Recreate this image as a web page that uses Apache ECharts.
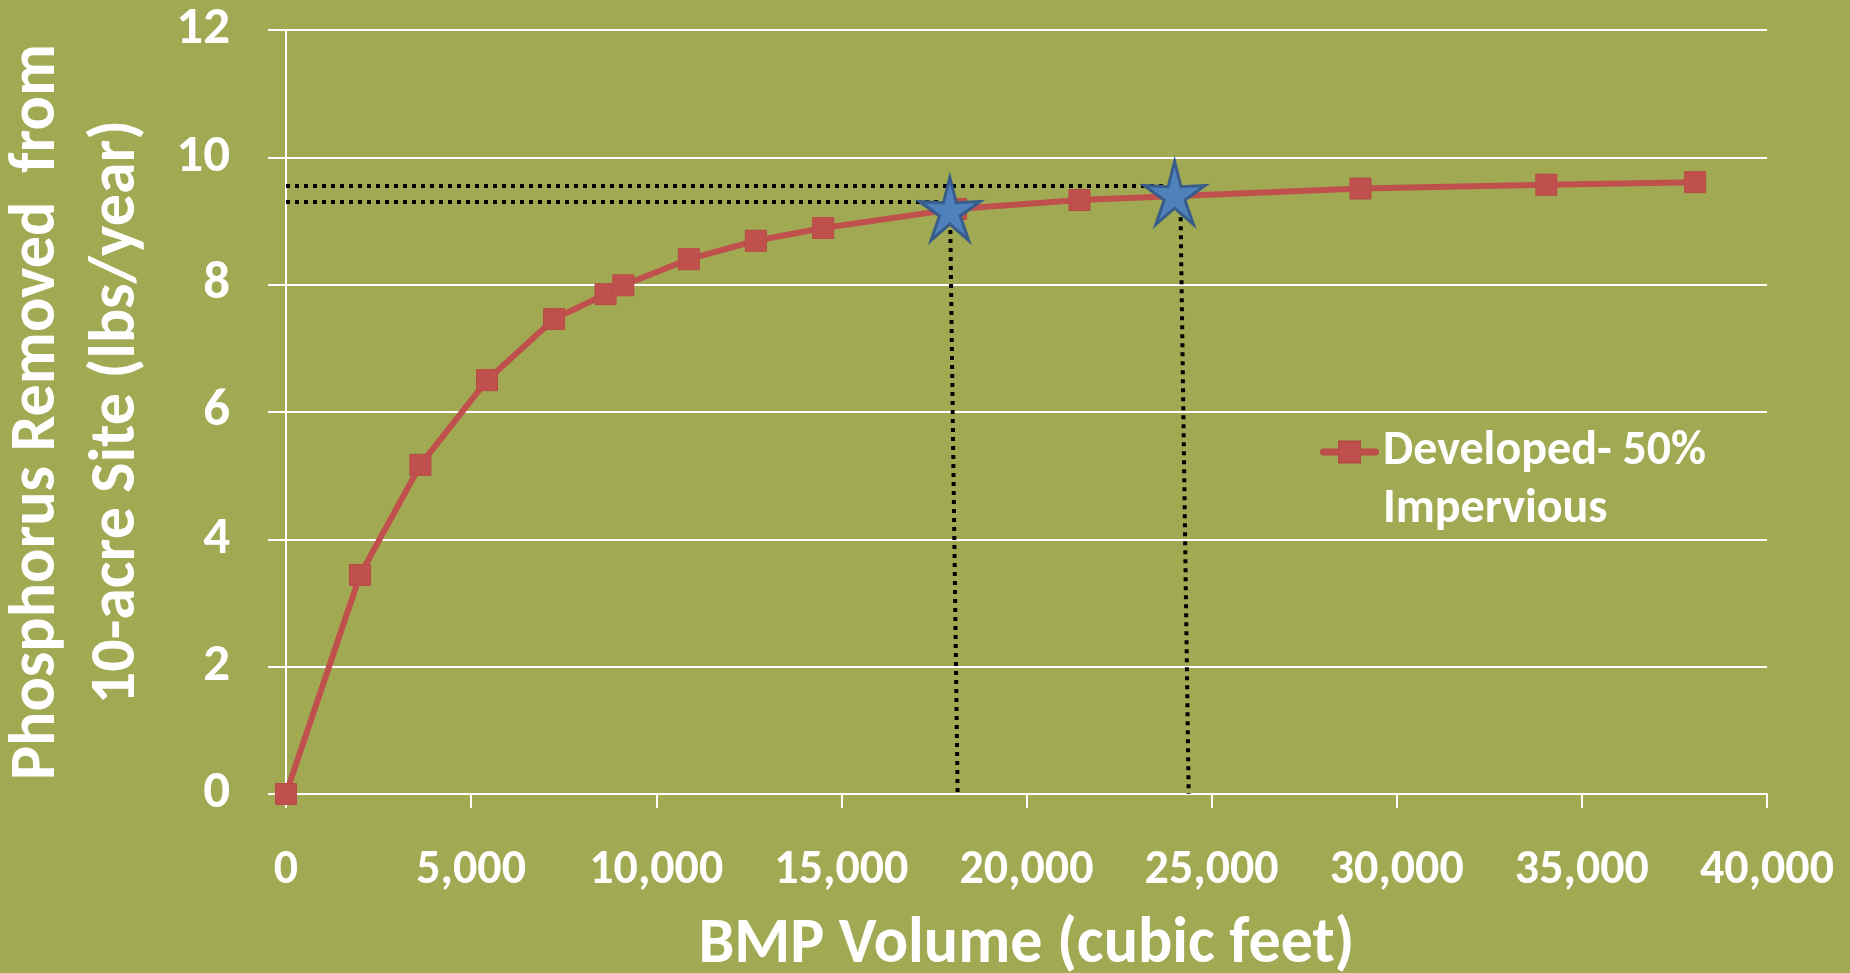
<!DOCTYPE html>
<html>
<head>
<meta charset="utf-8">
<script src="https://cdn.jsdelivr.net/npm/echarts@6/dist/echarts.min.js"></script>
<style>
  html, body { margin: 0; padding: 0; background: #A1AA52; }
  #chart { width: 1850px; height: 973px; }
</style>
</head>
<body>
<div id="chart"></div>
<script>
// ---- data ----
const seriesName = 'Developed- 50% Impervious';
const legendLines = ['Developed- 50%', 'Impervious'];
const bmpVolume = [0, 2000, 3630, 5430, 7240, 8630, 9110, 10880, 12690, 14510, 18100, 21430, 29020, 34040, 38060];
const phosRemoved = [0, 3.44, 5.17, 6.50, 7.46, 7.85, 7.99, 8.40, 8.69, 8.89, 9.19, 9.33, 9.51, 9.57, 9.61];
const starVolume = [17930, 24000];
const starPhos = [9.19, 9.44];
const guideUpper = [[0, 9.55], [23830, 9.55]];
const guideLower = [[0, 9.30], [17700, 9.30]];
const guideLeftDrop = [[17940, 9.0], [18140, 0]];
const guideRightDrop = [[24160, 9.2], [24380, 0]];
const xTicks = { min: 0, max: 40000, interval: 5000 };
const yTicks = { min: 0, max: 12, interval: 2 };
const xTitle = 'BMP Volume (cubic feet)';
const yTitle = 'Phosphorus Removed  from\n10-acre Site (lbs/year)';

// ---- chart ----
const FONT = 'Carlito, Lato, sans-serif';
const WHITE = '#FFFFFF';
const starPath = 'path://M50 0 L60 36.25 L97.55 34.55 L66.17 55.25 L79.39 90.45 L50 67 L20.61 90.45 L33.83 55.25 L2.45 34.55 L40 36.25 Z';
// legend glyph: thick line with a square marker in the middle (57 x 21 box)
const legendGlyph = 'path://M2.5 8 L18 8 L18 0 L39 0 L39 8 L54.5 8 A2.5 2.5 0 0 1 54.5 13 L39 13 L39 21 L18 21 L18 13 L2.5 13 A2.5 2.5 0 0 1 2.5 8 Z';

function withCommas(v) {
  return String(v).replace(/\B(?=(\d{3})+(?!\d))/g, ',');
}

const dotted = { color: '#000000', width: 4, type: [4, 5], cap: 'butt' };
function guideSeries(name, data) {
  return {
    name: name, type: 'line', data: data, symbol: 'none', silent: true,
    lineStyle: dotted, z: 3, animation: false
  };
}

const chart = echarts.init(document.getElementById('chart'), null, { renderer: 'canvas' });
chart.setOption({
  backgroundColor: '#A1AA52',
  animation: false,
  textStyle: { fontFamily: FONT },
  grid: { left: 286, right: 83, top: 30, bottom: 179, containLabel: false, outerBoundsMode: 'none' },
  legend: {
    data: [{ name: seriesName, icon: legendGlyph }],
    left: 1320, top: 365, padding: 0,
    itemWidth: 57, itemHeight: 21, itemGap: 0,
    formatter: function () { return '\n' + legendLines.join('\n'); },
    textStyle: { color: WHITE, fontSize: 48, fontWeight: 'bold', fontFamily: FONT, lineHeight: 58 }
  },
  xAxis: {
    type: 'value', min: xTicks.min, max: xTicks.max, interval: xTicks.interval,
    name: xTitle, nameLocation: 'middle', nameGap: 120, nameMoveOverlap: false,
    nameTextStyle: { color: WHITE, fontSize: 64, fontWeight: 'bold', fontFamily: FONT },
    axisLine: { show: true, onZero: false, lineStyle: { color: WHITE, width: 2 } },
    axisTick: { show: true, inside: false, length: 14, lineStyle: { color: WHITE, width: 2 } },
    axisLabel: { color: WHITE, fontSize: 48, fontWeight: 'bold', fontFamily: FONT, margin: 53, formatter: withCommas },
    splitLine: { show: false }
  },
  yAxis: {
    type: 'value', min: yTicks.min, max: yTicks.max, interval: yTicks.interval,
    name: yTitle, nameLocation: 'middle', nameRotate: 90, nameGap: 128, nameMoveOverlap: false,
    nameTextStyle: { color: WHITE, fontSize: 64, fontWeight: 'bold', fontFamily: FONT, lineHeight: 80, align: 'center' },
    axisLine: { show: true, onZero: false, lineStyle: { color: WHITE, width: 2 } },
    axisTick: { show: true, inside: false, length: 18, lineStyle: { color: WHITE, width: 2 } },
    axisLabel: { color: WHITE, fontSize: 53, fontWeight: 'bold', fontFamily: FONT, margin: 56 },
    splitLine: { show: true, lineStyle: { color: WHITE, width: 2 } }
  },
  series: [
    guideSeries('guideUpper', guideUpper),
    guideSeries('guideLower', guideLower),
    guideSeries('guideLeftDrop', guideLeftDrop),
    guideSeries('guideRightDrop', guideRightDrop),
    {
      name: seriesName, type: 'line',
      data: bmpVolume.map(function (x, i) { return [x, phosRemoved[i]]; }),
      symbol: 'rect', symbolSize: 21, showAllSymbol: true,
      lineStyle: { color: '#C0504D', width: 6 },
      itemStyle: { color: '#C0504D', borderColor: '#B84A47', borderWidth: 1 },
      z: 4
    },
    {
      name: 'stars', type: 'scatter',
      data: starVolume.map(function (x, i) { return [x, starPhos[i]]; }),
      symbol: starPath, symbolSize: [61, 63],
      itemStyle: { color: '#4F81BD', borderColor: '#385D8A', borderWidth: 3, opacity: 1 },
      z: 5, silent: true
    }
  ]
});
</script>
</body>
</html>
